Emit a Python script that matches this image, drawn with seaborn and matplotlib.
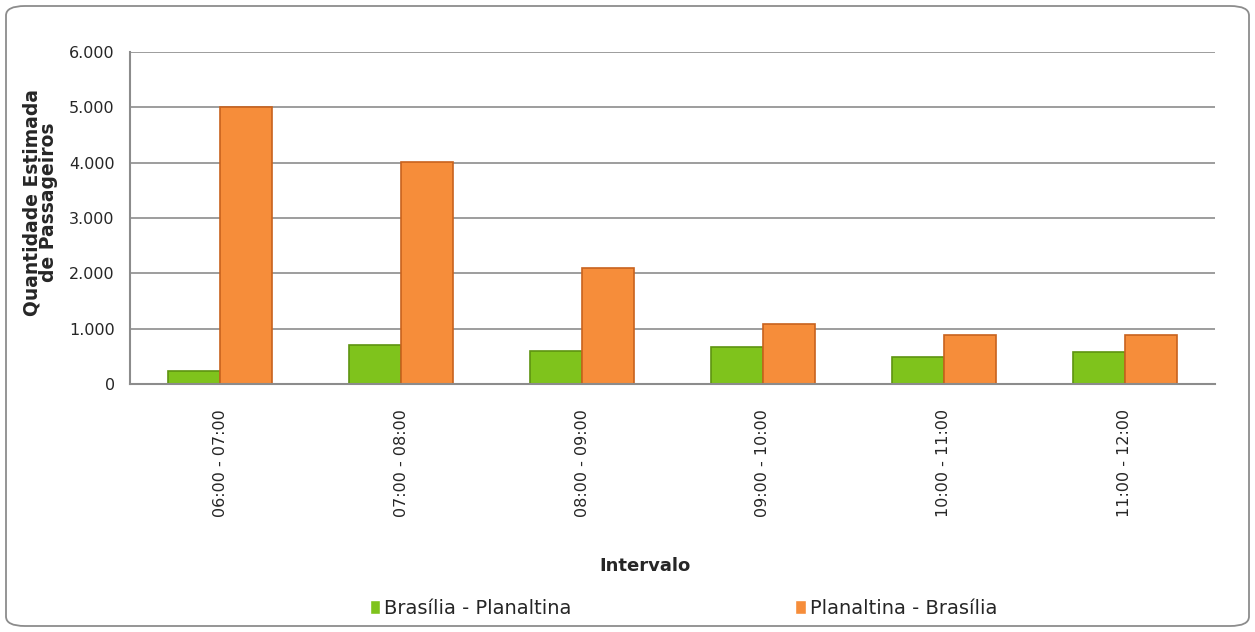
import numpy as np
import pandas as pd
import seaborn as sns
import matplotlib.pyplot as plt
from matplotlib.patches import FancyBboxPatch
from matplotlib.ticker import FuncFormatter, FixedLocator

intervalos = ["06:00 - 07:00", "07:00 - 08:00", "08:00 - 09:00",
              "09:00 - 10:00", "10:00 - 11:00", "11:00 - 12:00"]
brasilia_planaltina = [240, 700, 600, 670, 495, 575]
planaltina_brasilia = [5000, 4010, 2090, 1085, 885, 885]
series = ["Brasília - Planaltina", "Planaltina - Brasília"]

df = pd.DataFrame({
    "Intervalo": intervalos * 2,
    "valor": brasilia_planaltina + planaltina_brasilia,
    "serie": [series[0]] * 6 + [series[1]] * 6,
})

sns.set_style("white")
plt.rcParams['font.family'] = ['DejaVu Sans']

fig = plt.figure(figsize=(12.55, 6.32), dpi=100)
ax = fig.add_axes([130 / 1255, 1 - 384 / 632, (1215 - 130) / 1255, (384 - 52) / 632])

cores = {series[0]: "#7fc31c", series[1]: "#f68d3a"}
sns.barplot(data=df, x="Intervalo", y="valor", hue="serie", palette=cores,
            width=0.575, gap=0, ax=ax, legend=True, saturation=1)
for p, ec in zip(ax.patches, ["#5e9410"] * 6 + ["#c8621e"] * 6):
    p.set_edgecolor(ec)
    p.set_linewidth(1.2)

ax.set_ylim(0, 6000)
ax.set_xlim(-0.5, 5.5)
ax.set_yticks(np.arange(0, 6001, 1000))
ax.yaxis.set_major_formatter(FuncFormatter(lambda v, _: f"{int(v):,}".replace(",", ".")))
ax.grid(axis="y", color="#8c8c8c", linewidth=1.2)
ax.set_axisbelow(True)
for s in ["top", "right"]:
    ax.spines[s].set_visible(False)
for s in ["left", "bottom"]:
    ax.spines[s].set_color("#8c8c8c")
    ax.spines[s].set_linewidth(1.5)

ax.tick_params(axis="y", direction="out", length=5, color="#8c8c8c", labelsize=11.5, pad=6)
ax.tick_params(axis="x", which="major", length=0, labelsize=11.5, pad=18, rotation=90)
ax.xaxis.set_minor_locator(FixedLocator(np.arange(-0.5, 6, 1)))
ax.tick_params(axis="x", which="minor", direction="out", length=6, color="#8c8c8c", width=1.2)
for t in ax.get_xticklabels():
    t.set_verticalalignment("top")

ax.set_xlabel("Intervalo", fontsize=13, fontweight="bold")
ax.xaxis.set_label_coords(0.475, -0.52)
ax.set_ylabel("Quantidade Estimada\nde Passageiros", fontsize=13.5, fontweight="bold", linespacing=0.85)
ax.yaxis.set_label_coords(-0.066, 0.548)

h, l = ax.get_legend_handles_labels()
ax.legend(h, l, loc="center", bbox_to_anchor=(0.51, -0.675), ncol=2, frameon=False,
          fontsize=14, handlelength=0.55, handleheight=0.75, handletextpad=0.2,
          columnspacing=11.5)

fig.patches.append(FancyBboxPatch((6 / 1255, 6 / 632), 1243 / 1255, 620 / 632,
                                  boxstyle="round,pad=0,rounding_size=0.015",
                                  transform=fig.transFigure, fill=False,
                                  edgecolor="#8c8c8c", linewidth=1.3))

fig.savefig("out.png", dpi=100)
